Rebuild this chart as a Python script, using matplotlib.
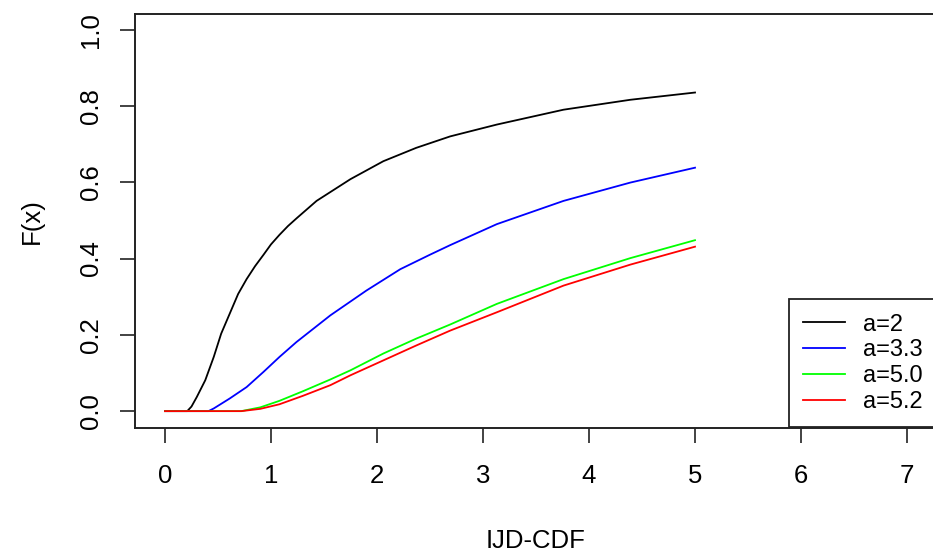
import matplotlib
matplotlib.use("Agg")
import matplotlib.pyplot as plt
from matplotlib.axes import Axes

plt.rcParams['font.family'] = ['Liberation Sans', 'DejaVu Sans']

FONT_SIZE = 18.5
LEGEND_FONT_SIZE = 17

# values (x, F(x)) for each shape parameter
BLACK_X = [0, 0.21, 0.25, 0.30, 0.38, 0.46, 0.53, 0.61, 0.69, 0.77, 0.85, 0.93,
           1.0, 1.08, 1.16, 1.24, 1.43, 1.75, 2.06, 2.37, 2.69, 3.13, 3.76, 4.39, 5.0]
BLACK_Y = [0, 0, 0.012, 0.037, 0.081, 0.142, 0.203, 0.255, 0.307, 0.346, 0.38,
           0.41, 0.437, 0.462, 0.485, 0.505, 0.551, 0.608, 0.655, 0.69, 0.72,
           0.751, 0.79, 0.816, 0.835]

BLUE_X = [0, 0.41, 0.46, 0.61, 0.77, 0.93, 1.08, 1.24, 1.40, 1.56, 1.90, 2.22,
          2.5, 2.69, 3.13, 3.76, 4.39, 5.0]
BLUE_Y = [0, 0, 0.007, 0.033, 0.063, 0.103, 0.142, 0.181, 0.216, 0.251, 0.316,
          0.372, 0.41, 0.435, 0.49, 0.551, 0.599, 0.638]

GREEN_X = [0, 0.72, 0.9, 1.08, 1.30, 1.56, 1.75, 2.06, 2.37, 2.69, 3.13, 3.76,
           4.39, 5.0]
GREEN_Y = [0, 0, 0.01, 0.027, 0.052, 0.083, 0.107, 0.151, 0.19, 0.227, 0.281,
           0.346, 0.401, 0.448]

RED_X = [0, 0.72, 0.9, 1.08, 1.30, 1.56, 1.75, 2.06, 2.37, 2.69, 3.13, 3.76,
         4.39, 5.0]
RED_Y = [0, 0, 0.006, 0.018, 0.040, 0.068, 0.094, 0.133, 0.172, 0.211, 0.259,
         0.329, 0.384, 0.431]

SERIES = [
    ("a=2", BLACK_X, BLACK_Y, "black"),
    ("a=3.3", BLUE_X, BLUE_Y, "blue"),
    ("a=5.0", GREEN_X, GREEN_Y, "#00ff00"),
    ("a=5.2", RED_X, RED_Y, "red"),
]

X_TICKS = [0, 1, 2, 3, 4, 5, 6, 7]
Y_TICKS = [0.0, 0.2, 0.4, 0.6, 0.8, 1.0]


def create_graph() -> None:
    fig = plt.figure(figsize=(9.33, 5.56), dpi=100)
    # plot region in pixels: left 135.3, right 936.7 (cut off), top 14.3, bottom 428.3
    W, H = 933, 556
    ax = fig.add_axes([135.3 / W, (H - 428.3) / H, (936.7 - 135.3) / W, (428.3 - 14.3) / H])

    plot_data(ax)
    style_axes(ax)
    add_legend(ax)
    fig.savefig("out.png", dpi=100)


def plot_data(ax: Axes) -> None:
    for label, xs, ys, color in SERIES:
        ax.plot(xs, ys, color=color, lw=1.3, label=label)


def style_axes(ax: Axes) -> None:
    ax.set_xlim(-0.28, 7.28)
    ax.set_ylim(-0.045, 1.04)
    ax.set_xticks(X_TICKS)
    ax.set_xticklabels([str(t) for t in X_TICKS])
    ax.set_yticks(Y_TICKS)
    ax.set_yticklabels([f"{t:.1f}" for t in Y_TICKS])

    ax.tick_params(axis='both', direction='out', length=11, width=1.2,
                   labelsize=FONT_SIZE, color='#222222')
    ax.tick_params(axis='x', pad=15)
    ax.tick_params(axis='y', pad=12, labelrotation=90)
    for lbl in ax.get_yticklabels():
        lbl.set_va('center')

    for side in ['bottom', 'top', 'left', 'right']:
        ax.spines[side].set_linewidth(1.4)
        ax.spines[side].set_color('#222222')

    ax.set_xlabel('IJD-CDF', fontsize=FONT_SIZE)
    ax.set_ylabel('F(x)', fontsize=FONT_SIZE)
    ax.xaxis.set_label_coords(0.5, -0.2715)
    ax.xaxis.label.set_va('center')
    ax.yaxis.set_label_coords(-0.129, 0.5)
    ax.yaxis.label.set_va('center')


def add_legend(ax: Axes) -> None:
    leg = ax.legend(
        loc='lower right',
        bbox_to_anchor=(1.0, 0.003),
        borderaxespad=0,
        fancybox=False,
        edgecolor='#222222',
        fontsize=LEGEND_FONT_SIZE,
        handlelength=1.78,
        handletextpad=0.76,
        labelspacing=0.16,
        borderpad=0.6,
        framealpha=1,
    )
    leg.get_frame().set_linewidth(1.3)


create_graph()
